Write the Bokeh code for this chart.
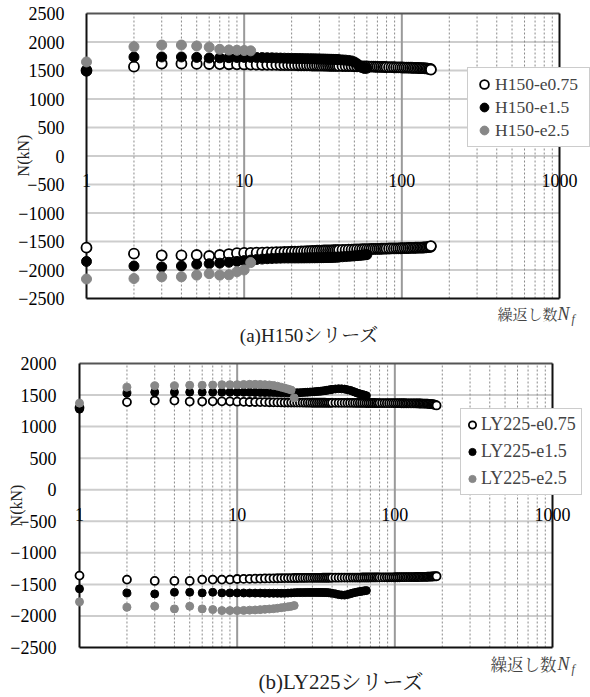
import math
from bokeh.plotting import figure
from bokeh.models import FixedTicker, NumeralTickFormatter, Label, ColumnDataSource, Range1d
from bokeh.layouts import column
from bokeh.embed import file_html
from bokeh.resources import INLINE

# ---------------- data ----------------
x_ticks = [1, 10, 100, 1000]
x_minor = [2, 3, 4, 5, 6, 7, 8, 9, 20, 30, 40, 50, 60, 70, 80, 90,
           200, 300, 400, 500, 600, 700, 800, 900]
y_ticks_a = [-2500, -2000, -1500, -1000, -500, 0, 500, 1000, 1500, 2000, 2500]
y_ticks_b = [-2500, -2000, -1500, -1000, -500, 0, 500, 1000, 1500, 2000]

# (a) H150 series  (cycle number N, peak axial force in tension / compression)
h075_n = [1, 2, 3, 4, 5, 6, 7, 8, 9, 10, 11, 12, 13, 14, 15, 16, 17, 18, 19, 20,
          21, 22, 23, 24, 25, 26, 27, 28, 29, 30, 31, 32, 33, 34, 35, 36, 37, 38, 39, 40,
          42, 44, 46, 48, 50, 52, 54, 56, 58, 60, 62, 64, 66, 68, 70, 72, 74, 76, 78, 80,
          83, 86, 89, 92, 95, 98, 101, 104, 107, 110, 113, 116, 119, 122, 125, 128, 131, 134,
          137, 140, 143, 146, 149, 152, 153]
h075_pos = [1500, 1567, 1620, 1620, 1615, 1614, 1612, 1610, 1608, 1606,
            1604, 1602, 1600, 1600, 1598, 1598, 1596, 1596, 1595, 1594,
            1593, 1592, 1591, 1590, 1590, 1589, 1588, 1587, 1586, 1586,
            1585, 1585, 1584, 1584, 1583, 1583, 1582, 1582, 1581, 1580,
            1579, 1578, 1577, 1576, 1575, 1574, 1573, 1572, 1571, 1570,
            1569, 1568, 1567, 1566, 1565, 1564, 1563, 1562, 1561, 1560,
            1559, 1558, 1557, 1556, 1555, 1554, 1553, 1552, 1551, 1550, 1549, 1548, 1547, 1546,
            1545, 1544, 1543, 1542, 1540, 1538, 1536, 1534, 1530, 1526, 1515]
h075_neg = [-1608, -1713, -1743, -1743, -1737, -1754, -1737, -1720, -1705, -1700,
            -1698, -1696, -1694, -1692, -1690, -1688, -1686, -1684, -1682, -1680,
            -1678, -1676, -1674, -1672, -1670, -1668, -1666, -1664, -1662, -1660,
            -1659, -1658, -1657, -1656, -1655, -1654, -1653, -1652, -1651, -1650,
            -1648, -1646, -1644, -1642, -1640, -1638, -1637, -1636, -1635, -1634,
            -1633, -1632, -1631, -1630, -1629, -1628, -1627, -1626, -1625, -1624,
            -1623, -1622, -1621, -1620, -1619, -1618, -1617, -1616, -1615, -1614, -1613, -1612, -1611, -1610,
            -1609, -1608, -1607, -1606, -1605, -1604, -1602, -1600, -1596, -1592, -1580]

h15_n = [1, 2, 3, 4, 5, 6, 7, 8, 9, 10, 11, 12, 13, 14, 15, 16, 17, 18, 19, 20,
         21, 22, 23, 24, 25, 26, 27, 28, 29, 30, 31, 32, 33, 34, 35, 36, 37, 38, 39, 40,
         42, 44, 46, 48, 50, 52, 54, 56, 58, 60]
h15_pos = [1490, 1737, 1737, 1737, 1730, 1720, 1722, 1725, 1728, 1730,
           1730, 1728, 1726, 1724, 1722, 1720, 1718, 1716, 1714, 1712,
           1711, 1710, 1709, 1708, 1707, 1706, 1705, 1704, 1703, 1702,
           1701, 1700, 1699, 1698, 1697, 1696, 1695, 1694, 1692, 1690,
           1686, 1682, 1676, 1668, 1650, 1620, 1580, 1550, 1535, 1540]
h15_neg = [-1850, -1930, -1947, -1930, -1900, -1890, -1880, -1865, -1850, -1835,
           -1825, -1815, -1808, -1802, -1798, -1795, -1792, -1790, -1790, -1790,
           -1789, -1789, -1788, -1788, -1787, -1787, -1786, -1786, -1785, -1785,
           -1784, -1783, -1782, -1781, -1780, -1779, -1778, -1776, -1774, -1772,
           -1768, -1764, -1760, -1756, -1752, -1748, -1744, -1740, -1735, -1730]

h25_n = [1, 2, 3, 4, 5, 6, 7, 8, 9, 10, 11]
h25_pos = [1650, 1918, 1947, 1947, 1930, 1910, 1872, 1860, 1855, 1850, 1845]
h25_neg = [-2158, -2150, -2120, -2120, -2090, -2065, -2090, -2085, -2030, -2000, -1870]

# (b) LY225 series
l075_n = [1, 2, 3, 4, 5, 6, 7, 8, 9, 10, 11, 12, 13, 14, 15, 16, 17, 18, 19, 20,
          21, 22, 23, 24, 25, 26, 27, 28, 29, 30, 31, 32, 33, 34, 35, 36, 37, 38, 39, 40,
          42, 44, 46, 48, 50, 52, 54, 56, 58, 60, 62, 64, 66, 68, 70, 72, 74, 76, 78, 80,
          83, 86, 89, 92, 95, 98, 101, 104, 107, 110, 113, 116, 119, 122, 125, 128, 131,
          134, 137, 140, 143, 146, 149, 152, 155, 158, 161, 164, 167, 170, 173, 176, 179,
          182, 184]
l075_pos = [1300, 1388, 1413, 1413, 1397, 1397, 1400, 1400, 1400, 1395,
            1392, 1390, 1390, 1388, 1388, 1386, 1385, 1384, 1383, 1382,
            1382, 1381, 1381, 1380, 1380, 1380, 1379, 1379, 1379, 1378,
            1378, 1378, 1378, 1378, 1378, 1378, 1377, 1377, 1377, 1377,
            1377, 1377, 1376, 1376, 1376, 1376, 1376, 1375, 1375, 1375,
            1375, 1375, 1374, 1374, 1374, 1374, 1374, 1373, 1373, 1373,
            1373, 1373, 1372, 1372, 1372, 1372, 1371, 1371, 1371, 1370,
            1370, 1370, 1369, 1369, 1369, 1368, 1368, 1368, 1367, 1367,
            1366, 1366, 1365, 1365, 1364, 1363, 1362, 1360, 1358, 1356,
            1354, 1351, 1347, 1342, 1335]
l075_neg = [-1361, -1424, -1445, -1445, -1445, -1424, -1424, -1424, -1424, -1415,
            -1413, -1412, -1410, -1408, -1406, -1405, -1404, -1403, -1402, -1400,
            -1400, -1400, -1399, -1399, -1398, -1398, -1398, -1397, -1397, -1397,
            -1396, -1396, -1396, -1396, -1395, -1395, -1395, -1395, -1394, -1394,
            -1394, -1394, -1393, -1393, -1393, -1393, -1392, -1392, -1392, -1392,
            -1391, -1391, -1391, -1391, -1390, -1390, -1390, -1390, -1389, -1389,
            -1389, -1389, -1388, -1388, -1388, -1388, -1387, -1387, -1387, -1386,
            -1386, -1386, -1385, -1385, -1385, -1384, -1384, -1384, -1383, -1383,
            -1382, -1382, -1381, -1381, -1380, -1380, -1379, -1378, -1377, -1376,
            -1375, -1374, -1373, -1372, -1371]

l15_n = [1, 2, 3, 4, 5, 6, 7, 8, 9, 10, 11, 12, 13, 14, 15, 16, 17, 18, 19, 20,
         21, 22, 23, 24, 25, 26, 27, 28, 29, 30, 31, 32, 33, 34, 35, 36, 37, 38, 39, 40,
         42, 44, 46, 48, 50, 52, 54, 56, 58, 60, 62, 64, 66]
l15_pos = [1277, 1530, 1546, 1546, 1546, 1546, 1546, 1546, 1546, 1545,
           1544, 1543, 1542, 1541, 1540, 1540, 1539, 1538, 1537, 1536,
           1536, 1536, 1536, 1537, 1538, 1540, 1543, 1545, 1548, 1550,
           1553, 1556, 1559, 1562, 1566, 1570, 1575, 1580, 1585, 1590,
           1596, 1600, 1598, 1594, 1585, 1575, 1560, 1545, 1530, 1520, 1510, 1500, 1490]
l15_neg = [-1571, -1635, -1651, -1625, -1625, -1635, -1625, -1635, -1635, -1635,
           -1636, -1637, -1638, -1638, -1639, -1640, -1640, -1640, -1641, -1641,
           -1638, -1635, -1632, -1630, -1630, -1630, -1629, -1628, -1628, -1628,
           -1628, -1628, -1628, -1628, -1629, -1630, -1630, -1632, -1636, -1640,
           -1650, -1662, -1668, -1670, -1662, -1650, -1638, -1628, -1620, -1614, -1608, -1602, -1598]

l25_n = [1, 2, 3, 4, 5, 6, 7, 8, 9, 10, 11, 12, 13, 14, 15, 16, 17, 18, 19, 20, 21, 22, 23]
l25_pos = [1372, 1625, 1646, 1646, 1656, 1656, 1660, 1665, 1665, 1665, 1668, 1670, 1670,
           1668, 1665, 1660, 1650, 1640, 1625, 1610, 1595, 1580, 1455]
l25_neg = [-1777, -1862, -1846, -1888, -1846, -1888, -1899, -1915, -1915, -1915, -1912, -1908,
           -1905, -1900, -1895, -1890, -1885, -1878, -1870, -1862, -1855, -1848, -1835]

# ---------------- styling ----------------
SERIF = "Liberation Serif"
MIXED = "Liberation Serif, Noto Serif CJK JP, Noto Sans CJK JP, serif"
JP = "Noto Serif CJK JP, Noto Sans CJK JP, sans-serif"
GRAY = "#878787"
W = 590


def make_fig(H, px_left, px_right, px_top, px_bot, ylo, yhi, yticks, ystandoff):
    """Frame covers the whole canvas; the plot box is placed by pixel positions."""
    x_lo, x_hi = x_ticks[0], x_ticks[-1]
    dec = (px_right - px_left) / math.log10(x_hi / x_lo)
    xr = Range1d(x_lo * 10 ** (-px_left / dec), x_lo * 10 ** ((W - px_left) / dec))
    ppu = (px_bot - px_top) / (yhi - ylo)
    yr = Range1d(ylo - (H - px_bot) / ppu, yhi + px_top / ppu)

    p = figure(width=W, height=H, x_axis_type="log", x_range=xr, y_range=yr,
               output_backend="svg", toolbar_location=None,
               min_border_left=0, min_border_right=0, min_border_top=0, min_border_bottom=0,
               background_fill_color="white", border_fill_color="white")
    p.outline_line_color = None
    p.xgrid.visible = False
    p.ygrid.visible = False

    # x axis: labels along the y=0 line
    xt = FixedTicker(ticks=x_ticks, minor_ticks=x_minor)
    p.xaxis.ticker = xt
    p.xaxis.fixed_location = 0
    p.xaxis.bounds = (x_lo, x_hi)
    p.xaxis.formatter = NumeralTickFormatter(format="0")
    p.xaxis.axis_line_color = None
    p.xaxis.major_tick_line_color = None
    p.xaxis.minor_tick_line_color = None
    p.xaxis.major_label_standoff = 12
    p.xaxis.major_label_text_font = SERIF
    p.xaxis.major_label_text_font_size = "18px"
    p.xaxis.major_label_text_color = "black"

    # y axis at x = 1
    yt = FixedTicker(ticks=yticks)
    p.yaxis.ticker = yt
    p.yaxis.fixed_location = x_lo
    p.yaxis.bounds = (ylo, yhi)
    p.yaxis.axis_line_color = None
    p.yaxis.major_tick_line_color = None
    p.yaxis.minor_tick_line_color = None
    p.yaxis.major_label_standoff = ystandoff
    p.yaxis.major_label_text_font = SERIF
    p.yaxis.major_label_text_font_size = "18px"
    p.yaxis.major_label_text_color = "black"

    # grid lines bounded by the plot box
    inner_y = [t for t in yticks if ylo < t < yhi]
    p.segment(x0=[x_lo] * len(inner_y), x1=[x_hi] * len(inner_y), y0=inner_y, y1=inner_y,
              line_color="#cdcdcd", line_width=2)
    p.segment(x0=x_minor, x1=x_minor, y0=[ylo] * len(x_minor), y1=[yhi] * len(x_minor),
              line_color="#8a8a8a", line_width=1, line_dash="2 2")
    inner_x = x_ticks[1:-1]
    p.segment(x0=inner_x, x1=inner_x, y0=[ylo] * len(inner_x), y1=[yhi] * len(inner_x),
              line_color="#9a9a9a", line_width=2)
    # plot box
    p.segment(x0=[x_lo, x_lo, x_hi, x_lo], x1=[x_hi, x_hi, x_hi, x_lo],
              y0=[yhi, ylo, ylo, ylo], y1=[yhi, ylo, yhi, yhi],
              line_color=["#555555", "#111111", "#111111", "#111111"], line_width=2)
    return p


def add_series(p, n, pos, neg, label, kind, size):
    src = ColumnDataSource(dict(x=n + n, y=pos + neg))
    if kind == "open":
        p.scatter("x", "y", source=src, size=size, marker="circle", fill_color="white",
                  line_color="black", line_width=1.8, legend_label=label)
    elif kind == "black":
        p.scatter("x", "y", source=src, size=size, marker="circle", fill_color="black",
                  line_color="black", line_width=1, legend_label=label)
    else:
        p.scatter("x", "y", source=src, size=size, marker="circle", fill_color=GRAY,
                  line_color=GRAY, line_width=1, legend_label=label)


def style_legend(p, loc, gw, gh, spacing, padding, standoff, fsize, lw):
    lg = p.legend[0]
    lg.location = loc
    lg.glyph_width = gw
    lg.glyph_height = gh
    lg.spacing = spacing
    lg.padding = padding
    lg.margin = 0
    lg.label_standoff = standoff
    lg.label_text_font = SERIF
    lg.label_text_font_size = fsize
    lg.label_height = gh
    lg.label_width = lw
    lg.border_line_color = "#9a9a9a"
    lg.border_line_width = 1.5
    lg.background_fill_color = "white"
    lg.background_fill_alpha = 1.0


def txt(p, H, x, y, text, font, size, align="left", angle=0.0, style="normal", color="#222222"):
    p.add_layout(Label(x=x, y=H - y, x_units="screen", y_units="screen", text=text,
                       angle=angle, text_align=align, text_baseline="middle",
                       text_font=font, text_font_size=size, text_font_style=style,
                       text_color=color))


# ---------------- (a) ----------------
H1 = 348
p1 = make_fig(H1, 86, 559, 13, 298, -2500, 2500, y_ticks_a, 16)
add_series(p1, h075_n, h075_pos, h075_neg, "H150-e0.75", "open", 10)
add_series(p1, h15_n, h15_pos, h15_neg, "H150-e1.5", "black", 10)
add_series(p1, h25_n, h25_pos, h25_neg, "H150-e2.5", "gray", 10)
style_legend(p1, (467, H1 - 147), 22, 22, 1, 5, 0, "17.5px", 89)
txt(p1, H1, 23, 155, "N(kN)", SERIF, "16px", align="center", angle=math.pi / 2)
txt(p1, H1, 497, 313, "繰返し数", JP, "15px", color="#444444")
txt(p1, H1, 557, 313, "N", SERIF, "18px", style="italic", color="#444444")
txt(p1, H1, 571, 318, "f", SERIF, "12px", style="italic", color="#444444")
txt(p1, H1, 309, 335, "(a)H150シリーズ", MIXED, "19px", align="center")

# ---------------- (b) ----------------
H2 = 349
p2 = make_fig(H2, 79, 552, 15, 299, -2500, 2000, y_ticks_b, 17)
add_series(p2, l075_n, l075_pos, l075_neg, "LY225-e0.75", "open", 8)
add_series(p2, l15_n, l15_pos, l15_neg, "LY225-e1.5", "black", 8)
add_series(p2, l25_n, l25_pos, l25_neg, "LY225-e2.5", "gray", 8)
style_legend(p2, (460, H2 - 147), 18, 27, 0, 2, 0, "18px", 98)
txt(p2, H2, 16, 157, "N(kN)", SERIF, "16px", align="center", angle=math.pi / 2)
txt(p2, H2, 490, 315, "繰返し数", JP, "16.5px", color="#444444")
txt(p2, H2, 557, 315, "N", SERIF, "18px", style="italic", color="#444444")
txt(p2, H2, 571, 320, "f", SERIF, "12px", style="italic", color="#444444")
txt(p2, H2, 341, 333, "(b)LY225シリーズ", MIXED, "21px", align="center")

layout = column(p1, p2)
open("out.html", "w").write(file_html(layout, INLINE))
